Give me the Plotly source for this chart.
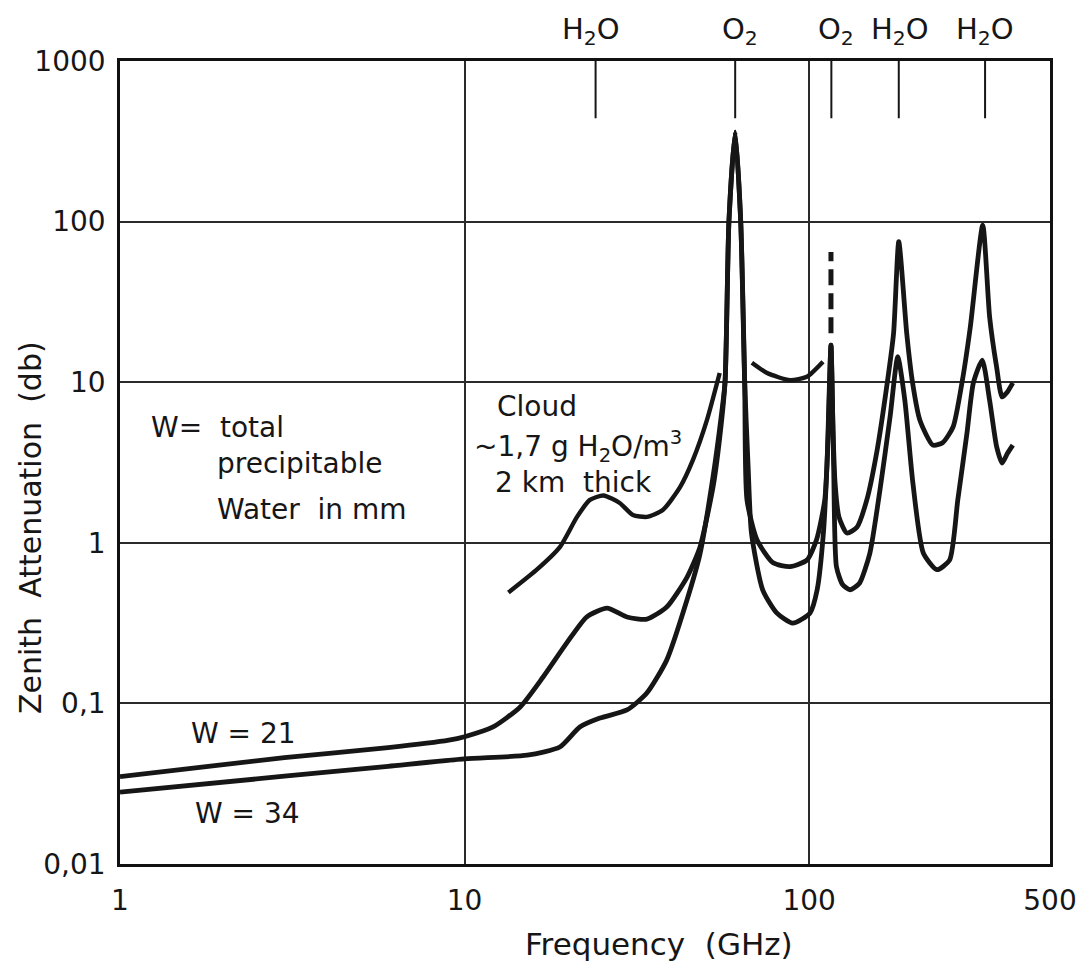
import math
import plotly.graph_objects as go

# ---------------- data ----------------
# upper low-frequency curve (labelled "W = 21")
freq_upper = [1, 3, 6, 9, 10, 12.1, 14.5, 16.9, 19.8, 22.6, 25.9, 29.6, 33.8, 38.6,
              44.2, 48.2, 52.6, 55, 57, 58.5, 61, 63.3, 65, 66, 70.6, 78.6, 88, 98.5,
              105, 111, 113.5, 115.7, 117.3, 118.9, 122, 128.7, 137.6, 147, 157.5,
              168.5, 175.8, 182, 192, 199.6, 209.6, 228.5, 244, 261.6, 277.6, 293.5,
              319, 334, 350, 363, 376, 390]
att_upper = [0.035, 0.046, 0.053, 0.059, 0.062, 0.0713, 0.095, 0.146, 0.238, 0.345,
             0.392, 0.345, 0.335, 0.398, 0.61, 0.94, 2.22, 4.5, 10, 100, 361, 100, 10,
             1.85, 1.04, 0.75, 0.71, 0.78, 1.04, 1.85, 4.5, 17, 5, 2.36, 1.45, 1.15,
             1.25, 1.85, 3.78, 9.9, 20.2, 75, 20, 9.9, 5.8, 4.06, 4.2, 5.26, 9.9, 22,
             95, 25.5, 12.4, 8.1, 8.7, 9.9]

# lower low-frequency curve (labelled "W = 34")
freq_lower = [1, 3, 6, 10, 15.2, 18.9, 21.6, 24.7, 29.6, 33.8, 38.6, 44.2, 48.2, 52.6,
              55.5, 57, 58.5, 61, 63.3, 65, 66.5, 68, 73.3, 80.5, 89.6, 100.6, 105.5,
              110, 112.6, 115.7, 117.8, 120, 125, 131.5, 140, 150, 160.5, 171.7, 180.8,
              189.5, 200, 214.6, 235, 255.6, 270, 287, 299.6, 318, 334, 350, 363, 376, 390]
att_lower = [0.028, 0.0352, 0.0406, 0.0451, 0.0476, 0.0535, 0.0713, 0.081, 0.091, 0.116,
             0.186, 0.44, 0.85, 2.57, 6, 10, 100, 361, 100, 10, 3, 1.15, 0.51, 0.366,
             0.316, 0.366, 0.51, 1.15, 2.97, 17, 3, 0.71, 0.55, 0.51, 0.56, 0.86, 2.13,
             6.07, 14.4, 7.74, 2.36, 0.86, 0.68, 0.78, 1.85, 4.8, 9.9, 13.7, 7.7, 3.97,
             3.14, 3.6, 4.06]

# cloud curve (two drawn pieces)
freq_cloud = [13.4, 16.2, 18.9, 21.2, 23.1, 25.3, 28.2, 30.8, 33.8, 37.6, 42.2, 46,
              50.5, 55, None, 68.2, 75.5, 88, 98.5, 109.7]
att_cloud = [0.49, 0.68, 0.94, 1.45, 1.85, 1.97, 1.77, 1.49, 1.45, 1.6, 2.22, 3.28,
             5.8, 11.4, None, 13.2, 11.4, 10.3, 10.8, 13.4]

# dashed continuation at the 118 GHz oxygen line
freq_dash = [115.7, 115.7]
att_dash = [20.2, 64.7]

# absorption lines marked along the top edge
line_freqs = [24, 61, 116, 182, 324]
line_labels = ["H<sub>2</sub>O", "O<sub>2</sub>", "O<sub>2</sub>",
               "H<sub>2</sub>O", "H<sub>2</sub>O"]

x_tickvals = [1, 10, 100, 500]
x_ticktext = ["1", "10", "100", "500"]
y_tickvals = [0.01, 0.1, 1, 10, 100, 1000]
y_ticktext = ["0,01", "0,1", "1", "10", "100", "1000"]

# ---------------- figure ----------------
INK = "#161616"
FONT = "DejaVu Sans"
PAGE_OFF = 8                     # default body margin of the html page
L, R, T, B = 120, 1050, 61, 864  # plot frame as seen on screen
W_, H_ = 1088 - PAGE_OFF, 969 - PAGE_OFF


def px(xp):
    return (xp - L) / (R - L)


def py(yp):
    return (B - yp) / (B - T)


fig = go.Figure()

for fx, ay, w, dash, shape in [
    (freq_upper, att_upper, 4.8, "solid", "spline"),
    (freq_lower, att_lower, 4.8, "solid", "spline"),
    (freq_cloud, att_cloud, 4.4, "solid", "spline"),
    (freq_dash, att_dash, 5, "16px,8px", "linear"),
]:
    fig.add_trace(go.Scatter(
        x=fx, y=ay, mode="lines", connectgaps=False,
        line=dict(color=INK, width=w, dash=dash, shape=shape, smoothing=0.6),
        showlegend=False, hoverinfo="skip"))

for f in line_freqs:
    fig.add_trace(go.Scatter(
        x=[f, f], y=[1000, 440], mode="lines",
        line=dict(color=INK, width=2), showlegend=False, hoverinfo="skip"))

annotations = []
shifts = [-5, 5, 5, 1, 0]
for f, lab, s in zip(line_freqs, line_labels, shifts):
    annotations.append(dict(
        x=math.log10(f), xref="x", y=py(31), yref="paper", text=lab,
        showarrow=False, xanchor="center", yanchor="middle", xshift=s,
        font=dict(family=FONT, size=29, color=INK)))


def note(text, xp, yp, anchor="left", size=28, angle=0):
    annotations.append(dict(
        x=px(xp), xref="paper", y=py(yp), yref="paper", text=text,
        showarrow=False, xanchor=anchor, yanchor="middle", textangle=angle,
        font=dict(family=FONT, size=size, color=INK)))


note("W=  total", 149, 427)
note("precipitable", 215, 463)
note("Water  in mm", 215, 509)
note("W = 21", 189, 733)
note("W = 34", 193, 813)
note("Cloud", 495, 406)
note("~1,7 g H<sub>2</sub>O/m<sup>3</sup>", 472, 446)
note("2 km  thick", 493, 482)
note("Frequency  (GHz)", 659, 944, anchor="center", size=31)
note("Zenith  Attenuation  (db)", 30, 528, anchor="center", size=30, angle=-90)

axis_common = dict(
    showgrid=True, gridcolor="#2a2a2a", gridwidth=1.6,
    showline=True, linecolor="#111111", linewidth=2.6, mirror=True,
    ticks="", zeroline=False, automargin=False,
    tickfont=dict(family=FONT, size=28, color=INK),
)

fig.update_layout(
    width=W_, height=H_,
    margin=dict(l=L - PAGE_OFF, r=W_ - (R - PAGE_OFF), t=T - PAGE_OFF,
                b=H_ - (B - PAGE_OFF), autoexpand=False),
    paper_bgcolor="white", plot_bgcolor="white",
    xaxis=dict(type="log", range=[0, math.log10(500)], tickvals=x_tickvals,
               ticktext=x_ticktext, ticklabelstandoff=10, **axis_common),
    yaxis=dict(type="log", range=[-2, 3], tickvals=y_tickvals,
               ticktext=y_ticktext, ticklabelstandoff=6, **axis_common),
    annotations=annotations,
)

fig.write_html("out.html")
